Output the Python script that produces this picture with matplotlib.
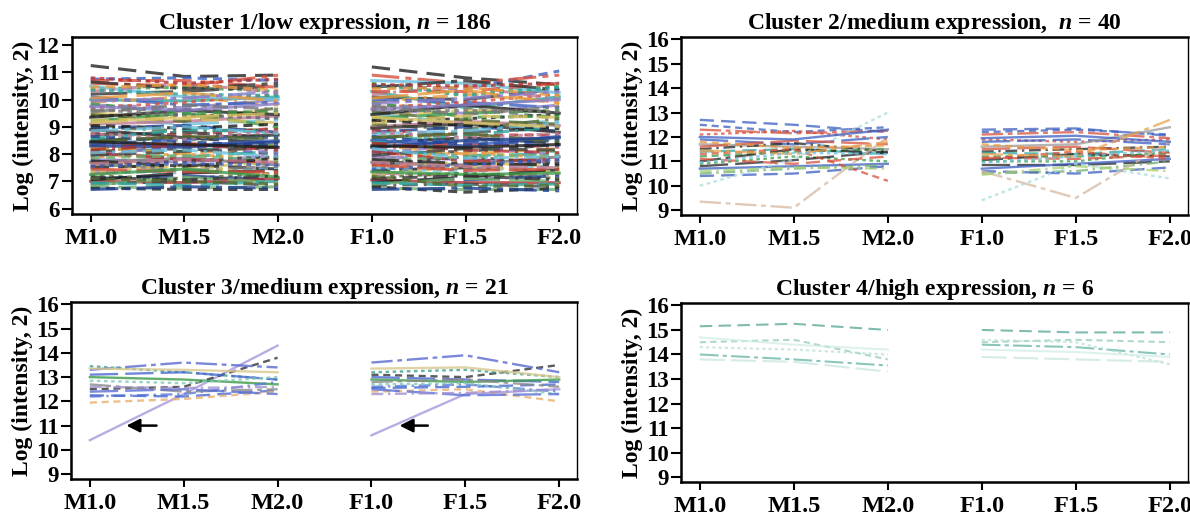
import matplotlib
matplotlib.use("Agg")
import matplotlib.pyplot as plt

plt.rcParams['font.family'] = ['Liberation Serif', 'DejaVu Serif']
plt.rcParams['font.weight'] = 'bold'
plt.rcParams['mathtext.fontset'] = 'custom'
plt.rcParams['mathtext.rm'] = 'Liberation Serif:bold'
plt.rcParams['mathtext.it'] = 'Liberation Serif:bold:italic'
plt.rcParams['mathtext.bf'] = 'Liberation Serif:bold'

# time points (male and female series, drawn as two separate segments)
timepoints = ['M1.0', 'M1.5', 'M2.0', 'F1.0', 'F1.5', 'F2.0']

# each row: M1.0, M1.5, M2.0, F1.0, F1.5, F2.0
cluster1 = [
    [11.25, 10.85, 10.9, 11.2, 10.8, 10.55],
    [10.75, 10.8, 10.7, 10.5, 10.4, 11.05],
    [10.6, 10.5, 10.9, 10.9, 10.6, 10.9],
    [10.4, 10.45, 10.3, 10.6, 10.2, 10.5],
    [10.2, 10.3, 10.5, 10.1, 10.0, 10.4],
    [10.0, 9.95, 10.1, 10.3, 9.7, 10.1],
    [9.9, 10.1, 9.8, 9.9, 10.2, 9.9],
    [9.8, 9.7, 10.0, 9.6, 9.5, 9.8],
    [9.6, 9.65, 9.5, 9.8, 9.7, 9.3],
    [9.5, 9.35, 9.6, 9.4, 9.6, 9.6],
    [9.4, 9.45, 9.3, 9.2, 9.3, 9.45],
    [9.3, 9.1, 9.25, 9.5, 9.1, 9.2],
    [9.1, 9.2, 9.4, 9.0, 9.2, 9.05],
    [9.0, 8.85, 8.9, 9.1, 8.9, 9.3],
    [8.95, 9.05, 8.8, 8.8, 9.0, 8.85],
    [8.8, 8.7, 8.95, 8.9, 8.7, 8.7],
    [8.7, 8.8, 8.6, 8.6, 8.8, 8.95],
    [8.6, 8.5, 8.7, 8.7, 8.5, 8.55],
    [8.5, 8.6, 8.4, 8.4, 8.6, 8.4],
    [8.4, 8.3, 8.5, 8.5, 8.3, 8.65],
    [8.3, 8.4, 8.2, 8.2, 8.4, 8.25],
    [8.2, 8.1, 8.35, 8.3, 8.2, 8.1],
    [8.1, 8.2, 8.0, 8.0, 8.1, 8.35],
    [8.0, 7.9, 8.1, 8.15, 7.95, 8.0],
    [7.9, 8.0, 7.8, 7.85, 8.05, 7.85],
    [7.8, 7.7, 7.95, 7.9, 7.8, 7.7],
    [7.7, 7.85, 7.6, 7.7, 7.6, 7.9],
    [7.6, 7.5, 7.7, 7.55, 7.7, 7.55],
    [7.5, 7.6, 7.45, 7.4, 7.5, 7.4],
    [7.4, 7.3, 7.5, 7.5, 7.35, 7.6],
    [7.3, 7.4, 7.25, 7.3, 7.2, 7.25],
    [7.2, 7.1, 7.3, 7.15, 7.3, 7.1],
    [7.1, 7.2, 7.05, 7.0, 7.05, 7.2],
    [7.0, 6.95, 7.1, 7.05, 6.95, 6.95],
    [6.9, 7.0, 6.85, 6.85, 6.9, 6.8],
    [6.8, 6.75, 6.8, 6.75, 6.7, 6.7],
    [6.75, 6.7, 6.7, 6.8, 6.6, 6.75],
    [10.1, 9.8, 9.9, 10.0, 9.9, 9.7],
    [9.7, 9.9, 10.2, 9.7, 9.9, 10.2],
    [9.2, 9.5, 9.0, 9.3, 9.5, 9.6],
    [8.9, 8.6, 8.7, 8.95, 9.1, 8.8],
    [8.55, 8.9, 8.8, 8.45, 8.7, 9.0],
    [8.25, 8.0, 8.3, 8.35, 8.0, 8.2],
    [7.95, 8.3, 8.05, 8.05, 8.3, 7.95],
    [7.65, 7.4, 7.55, 7.65, 7.45, 7.75],
    [7.35, 7.6, 7.2, 7.25, 7.55, 7.35],
    [7.05, 7.3, 7.4, 6.95, 7.15, 7.45],
    [10.5, 10.1, 10.0, 10.7, 10.6, 10.25],
    [10.3, 10.6, 10.25, 10.2, 10.5, 10.0],
    [9.45, 9.2, 9.7, 9.55, 9.25, 9.1],
    [8.65, 8.45, 8.3, 8.65, 8.35, 8.5],
    [8.05, 7.8, 7.7, 8.1, 7.75, 7.8],
    [7.55, 7.75, 7.9, 7.6, 7.9, 7.65],
    [6.85, 7.15, 6.95, 6.9, 7.1, 7.0],
    [9.35, 9.6, 9.45, 9.45, 9.8, 9.5],
    [8.35, 8.55, 8.6, 8.55, 8.45, 8.3],
    [10.7, 10.7, 10.45, 10.3, 10.3, 10.6],
    [9.85, 9.5, 9.55, 9.9, 9.35, 9.4],
    [10.65, 10.4, 10.6, 10.45, 10.7, 10.35],
    [10.35, 10.2, 10.15, 10.55, 10.15, 10.45],
    [10.05, 10.25, 9.95, 10.05, 10.35, 9.85],
    [9.75, 9.6, 9.85, 9.65, 9.8, 10.0],
    [9.55, 9.8, 9.65, 9.75, 9.45, 9.75],
    [9.25, 9.3, 9.15, 9.15, 9.4, 9.35],
    [9.05, 8.95, 9.1, 9.25, 9.05, 8.95],
    [8.85, 9.0, 8.75, 8.75, 8.85, 9.15],
    [8.75, 8.55, 8.85, 8.8, 8.6, 8.75],
    [8.45, 8.65, 8.55, 8.6, 8.75, 8.45],
    [8.3, 8.25, 8.45, 8.25, 8.5, 8.6],
    [8.15, 8.35, 8.15, 8.4, 8.15, 8.05],
    [7.95, 8.1, 8.25, 7.95, 8.2, 8.15],
    [7.85, 7.95, 7.75, 7.75, 7.9, 7.95],
    [7.75, 7.55, 7.85, 7.8, 7.65, 7.6],
    [7.55, 7.65, 7.6, 7.45, 7.6, 7.8],
    [7.45, 7.35, 7.35, 7.6, 7.4, 7.45],
    [7.25, 7.45, 7.15, 7.35, 7.25, 7.3],
    [7.15, 7.05, 7.2, 7.1, 7.2, 7.05],
    [6.95, 6.85, 7.0, 6.95, 6.85, 6.9],
    [10.45, 10.55, 10.35, 10.4, 10.45, 10.15],
    [9.95, 10.05, 10.3, 9.85, 10.05, 10.3],
    [9.65, 9.4, 9.35, 9.6, 9.6, 9.55],
    [9.15, 9.35, 9.5, 9.35, 9.15, 9.0],
    [8.45, 8.35, 8.25, 8.3, 8.25, 8.35],
    [8.05, 8.15, 7.9, 8.2, 7.85, 7.9],
    [7.65, 7.8, 7.7, 7.7, 7.55, 7.5],
    [7.1, 7.0, 6.9, 7.2, 6.8, 6.85],
    [6.7, 6.8, 6.75, 6.7, 6.75, 6.65],
    [10.8, 10.6, 10.75, 10.55, 10.5, 10.6],
]

cluster2 = [
    [12.7, 12.5, 12.2, 12.3, 12.35, 12.05],
    [12.5, 12.2, 12.4, 12.2, 12.3, 12.1],
    [12.3, 12.15, 12.25, 12.1, 12.2, 11.95],
    [12.1, 12.25, 11.9, 11.9, 11.8, 11.9],
    [11.9, 11.7, 12.0, 11.8, 11.9, 11.7],
    [11.7, 11.6, 11.5, 11.6, 11.7, 12.4],
    [11.5, 11.75, 11.4, 11.4, 11.5, 11.6],
    [11.4, 11.5, 11.3, 11.35, 11.3, 11.5],
    [11.2, 11.4, 11.5, 11.2, 11.2, 11.3],
    [11.0, 11.5, 11.35, 11.05, 11.3, 11.2],
    [10.9, 11.2, 11.0, 11.0, 11.0, 11.4],
    [10.8, 11.05, 11.4, 10.85, 10.85, 11.0],
    [10.7, 10.8, 10.9, 10.7, 10.9, 11.1],
    [10.5, 10.7, 10.85, 10.5, 10.6, 11.0],
    [10.4, 10.5, 10.8, 10.6, 10.5, 10.75],
    [11.3, 11.5, 10.2, 11.1, 11.4, 11.1],
    [9.35, 9.1, 12.0, 10.6, 9.5, 11.8],
    [10.0, 11.1, 13.0, 9.4, 10.9, 10.3],
    [11.6, 11.85, 11.7, 11.5, 11.6, 11.35],
    [12.0, 11.9, 12.3, 11.95, 12.05, 11.8],
    [10.6, 10.75, 10.7, 10.45, 10.8, 10.6],
    [11.1, 10.9, 11.2, 11.15, 11.1, 11.25],
    [11.8, 11.55, 11.65, 11.7, 11.45, 11.6],
    [11.45, 11.3, 11.8, 11.3, 11.2, 12.7],
    [10.95, 11.35, 11.3, 10.95, 11.2, 11.45],
]

cluster3 = [
    [10.4, 12.3, 14.3, 10.6, 12.3, 12.5],
    [12.5, 12.6, 13.8, 13.1, 13.0, 13.5],
    [13.3, 13.6, 13.4, 13.6, 13.9, 13.2],
    [13.45, 13.2, 12.9, 13.2, 13.3, 13.0],
    [13.1, 13.2, 12.9, 13.0, 12.9, 12.8],
    [13.0, 12.9, 12.7, 12.9, 12.8, 12.9],
    [12.2, 12.3, 12.8, 12.6, 12.7, 12.4],
    [12.25, 12.2, 12.45, 12.55, 12.6, 12.7],
    [11.95, 12.1, 12.4, 12.4, 12.5, 12.0],
    [12.7, 12.4, 12.5, 12.8, 12.9, 12.6],
    [12.85, 12.75, 13.0, 12.7, 12.75, 12.3],
    [12.4, 12.5, 12.3, 12.5, 12.25, 12.3],
    [13.35, 13.3, 13.2, 13.35, 13.4, 13.0],
    [12.6, 12.55, 12.6, 12.3, 12.35, 12.5],
]

cluster4 = [
    [15.15, 15.25, 15.0, 15.0, 14.9, 14.9],
    [14.5, 14.6, 13.8, 14.5, 14.6, 14.5],
    [14.0, 13.8, 13.55, 14.4, 14.3, 14.0],
    [14.3, 14.2, 14.0, 14.6, 14.5, 13.6],
    [13.8, 13.7, 13.3, 13.9, 13.8, 13.7],
    [14.7, 14.4, 14.2, 14.2, 14.1, 13.9],
]

titles = [
    'Cluster 1/low expression, $n$ = 186',
    'Cluster 2/medium expression,  $n$ = 40',
    'Cluster 3/medium expression, $n$ = 21',
    'Cluster 4/high expression, $n$ = 6',
]

palette = ['#222222', '#3b5fc0', '#d8503c', '#3a9a48', '#333333', '#2aa6a0',
           '#e89a3c', '#8a7cc8', '#777777', '#d8c060', '#1a1a1a', '#6cc0dc',
           '#c07890', '#556b2f', '#1f3f8f', '#b03030', '#444444', '#70b070']
dashes = [(0, (6, 3)), (0, (3, 2)), (0, (9, 2, 2, 2)), (0, (1.5, 1.5)),
          (0, (12, 3)), '-', (0, (5, 2, 1, 2))]

c2_colors = ['#3b5fc0', '#3b5fc0', '#d8503c', '#d8503c', '#3b5fc0', '#9a9a9a',
             '#222222', '#2aa6a0', '#3a9a48', '#222222', '#3a9a48', '#222222',
             '#3b5fc0', '#70b070', '#3b5fc0', '#d8503c', '#d8b8a0', '#a8dcdc',
             '#d8503c', '#3b5fc0', '#a8d070', '#d8503c', '#e89a3c', '#e8a050',
             '#6cc0dc']
c3_colors = ['#a898dc', '#333333', '#5a6ad0', '#3aa090', '#4a6ad0', '#3a9a48',
             '#5a7ad8', '#4a6ad0', '#e8b070', '#8a8a8a', '#80c8b8', '#5a70d8',
             '#d8c890', '#a090d0']
c4_colors = ['#4a9e8e', '#8cc8b8', '#5aae9e', '#b4dcd2', '#c4e4dc', '#d0ece6']

fig = plt.figure(figsize=(11.9, 5.15), dpi=100)
positions = [
    [0.0605, 0.5845, 0.4244, 0.3437],
    [0.5723, 0.5825, 0.4257, 0.3457],
    [0.0597, 0.0700, 0.4252, 0.3437],
    [0.5723, 0.0640, 0.4257, 0.3477],
]
ylims = [(5.8, 12.3), (8.8, 16.1), (8.8, 16.1), (8.8, 16.1)]
yticks = [range(6, 13), range(9, 17), range(9, 17), range(9, 17)]
data = [cluster1, cluster2, cluster3, cluster4]
colors = [None, c2_colors, c3_colors, c4_colors]
alphas = [0.8, 0.75, 0.8, 0.7]
widths = [2.2, 1.7, 1.7, 1.5]

for k in range(4):
    ax = fig.add_axes(positions[k])
    for i, row in enumerate(data[k]):
        col = colors[k][i] if colors[k] else palette[i % len(palette)]
        ls = dashes[i % len(dashes)]
        if k == 2 and i == 0:
            ls = '-'
        ax.plot(range(0, 3), row[0:3], color=col, ls=ls, lw=widths[k], alpha=alphas[k])
        ax.plot(range(3, 6), row[3:6], color=col, ls=ls, lw=widths[k], alpha=alphas[k])
    ax.set_xlim(-0.2, 5.19)
    ax.set_ylim(*ylims[k])
    ax.set_xticks(range(6))
    ax.set_xticklabels(timepoints)
    ax.set_yticks(list(yticks[k]))
    ax.tick_params(axis='x', labelsize=17.5, length=6, width=1.5, pad=4)
    ax.tick_params(axis='y', labelsize=16.5, length=7, width=1.5, pad=2)
    for lab in ax.get_xticklabels() + ax.get_yticklabels():
        lab.set_fontweight('bold')
    for side in ['left', 'bottom', 'top']:
        ax.spines[side].set_linewidth(1.8)
    ax.spines['right'].set_linewidth(1.0)
    ax.set_ylabel('Log (intensity, 2)', fontsize=17, fontweight='bold', labelpad=2)
    ax.set_title(titles[k], fontsize=17, fontweight='bold', pad=6)

    if k == 2:
        ax.annotate('', xy=(0.36, 11), xytext=(0.74, 11),
                    arrowprops=dict(arrowstyle='-|>', color='black', lw=1.8,
                                    mutation_scale=20))
        ax.annotate('', xy=(3.27, 11), xytext=(3.63, 11),
                    arrowprops=dict(arrowstyle='-|>', color='black', lw=1.8,
                                    mutation_scale=20))

fig.savefig('out.png', dpi=100)
